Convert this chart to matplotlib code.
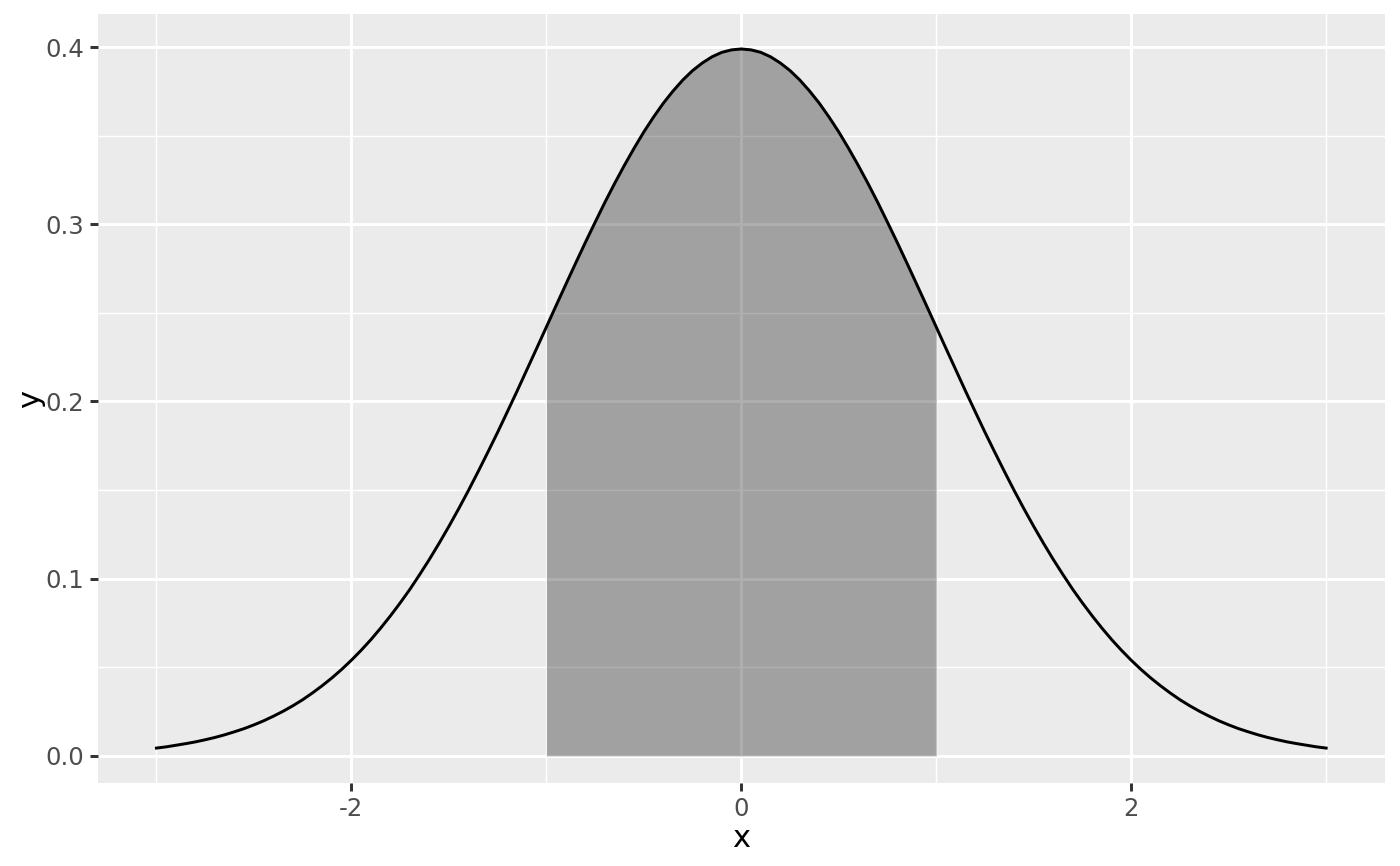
import matplotlib.pyplot as plt

# density curve, x step 0.05 from -3 to 3
X_VALUES = [round(-3.0 + 0.05 * i, 2) for i in range(121)]
Y_VALUES = [
    0.0044, 0.0051, 0.0060, 0.0069, 0.0079, 0.0091, 0.0104, 0.0119, 0.0136, 0.0154,
    0.0175, 0.0198, 0.0224, 0.0252, 0.0283, 0.0317, 0.0355, 0.0396, 0.0440, 0.0488,
    0.0540, 0.0596, 0.0656, 0.0721, 0.0790, 0.0863, 0.0940, 0.1023, 0.1109, 0.1200,
    0.1295, 0.1394, 0.1497, 0.1604, 0.1714, 0.1826, 0.1942, 0.2059, 0.2179, 0.2299,
    0.2420, 0.2541, 0.2661, 0.2780, 0.2897, 0.3011, 0.3123, 0.3230, 0.3332, 0.3429,
    0.3521, 0.3605, 0.3683, 0.3752, 0.3814, 0.3867, 0.3910, 0.3945, 0.3970, 0.3984,
    0.3989,
    0.3984, 0.3970, 0.3945, 0.3910, 0.3867, 0.3814, 0.3752, 0.3683, 0.3605, 0.3521,
    0.3429, 0.3332, 0.3230, 0.3123, 0.3011, 0.2897, 0.2780, 0.2661, 0.2541, 0.2420,
    0.2299, 0.2179, 0.2059, 0.1942, 0.1826, 0.1714, 0.1604, 0.1497, 0.1394, 0.1295,
    0.1200, 0.1109, 0.1023, 0.0940, 0.0863, 0.0790, 0.0721, 0.0656, 0.0596, 0.0540,
    0.0488, 0.0440, 0.0396, 0.0355, 0.0317, 0.0283, 0.0252, 0.0224, 0.0198, 0.0175,
    0.0154, 0.0136, 0.0119, 0.0104, 0.0091, 0.0079, 0.0069, 0.0060, 0.0051, 0.0044,
]
SHADE_FROM, SHADE_TO = -1.0, 1.0

X_TICKS = [-2, 0, 2]
X_TICK_LABELS = ["-2", "0", "2"]
X_MINOR = [-3, -1, 1, 3]
Y_TICKS = [0.0, 0.1, 0.2, 0.3, 0.4]
Y_TICK_LABELS = ["0.0", "0.1", "0.2", "0.3", "0.4"]
Y_MINOR = [0.05, 0.15, 0.25, 0.35]


def main() -> None:
    fig = plt.figure(figsize=(7, 4.33), dpi=200)
    ax = fig.add_axes([0.07, 0.0958, 0.919, 0.888])
    ax.set_facecolor("#EBEBEB")
    for side in ax.spines.values():
        side.set_visible(False)

    ax.set_xticks(X_TICKS)
    ax.set_xticklabels(X_TICK_LABELS)
    ax.set_xticks(X_MINOR, minor=True)
    ax.set_yticks(Y_TICKS)
    ax.set_yticklabels(Y_TICK_LABELS)
    ax.set_yticks(Y_MINOR, minor=True)

    ax.grid(which="major", color="white", linewidth=1.07)
    ax.grid(which="minor", color="white", linewidth=0.53)
    ax.set_axisbelow(True)
    ax.tick_params(which="major", length=2.75, width=1.07, color="#333333",
                   labelcolor="#4D4D4D", labelsize=8.8, pad=2.2)
    ax.tick_params(which="minor", length=0)

    xs = [x for x in X_VALUES if SHADE_FROM <= x <= SHADE_TO]
    ys = [y for x, y in zip(X_VALUES, Y_VALUES) if SHADE_FROM <= x <= SHADE_TO]
    ax.fill_between(xs, 0, ys, color="black", alpha=0.315, linewidth=0, zorder=2)
    ax.plot(X_VALUES, Y_VALUES, color="black", linewidth=1.07,
            solid_joinstyle="round", zorder=3)

    # ggplot-style 5% expansion around the curve's range
    xpad = 0.05 * (max(X_VALUES) - min(X_VALUES))
    ypad = 0.05 * (max(Y_VALUES) - min(Y_VALUES))
    ax.set_xlim(min(X_VALUES) - xpad, max(X_VALUES) + xpad)
    ax.set_ylim(min(Y_VALUES) - ypad, max(Y_VALUES) + ypad)

    ax.set_xlabel("x", fontsize=11, color="black", labelpad=1.0)
    ax.set_ylabel("y", fontsize=11, color="black", labelpad=0.0)

    fig.savefig("out.png", dpi=200)


if __name__ == "__main__":
    main()
